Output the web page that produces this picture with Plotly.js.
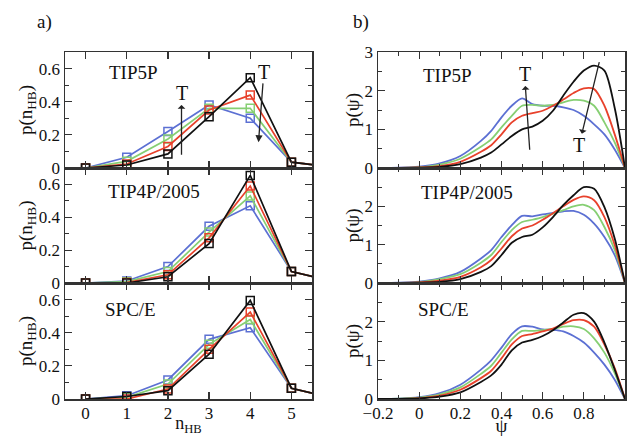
<!DOCTYPE html>
<html><head><meta charset="utf-8">
<script src="https://cdn.plot.ly/plotly-3.0.1.min.js"></script>
<style>html,body{margin:0;padding:0;background:#fff}</style>
</head><body>
<div id="chart" style="width:629px;height:436px"></div>
<script>
// ---------- data ----------
const nHB = [0, 1, 2, 3, 4, 5, 6];
const tip5pHB_black = [0.0, 0.018, 0.085, 0.31, 0.545, 0.035, 0.005];
const tip5pHB_red   = [0.0, 0.024, 0.13, 0.35, 0.44, 0.035, 0.005];
const tip5pHB_green = [0.0, 0.04, 0.175, 0.36, 0.36, 0.035, 0.005];
const tip5pHB_blue  = [0.0, 0.065, 0.22, 0.38, 0.30, 0.035, 0.005];

const tip4pHB_black = [0.0, 0.0, 0.038, 0.24, 0.655, 0.07, 0.01];
const tip4pHB_red   = [0.0, 0.003, 0.05, 0.275, 0.59, 0.07, 0.01];
const tip4pHB_green = [0.0, 0.008, 0.07, 0.31, 0.53, 0.07, 0.01];
const tip4pHB_blue  = [0.0, 0.012, 0.10, 0.345, 0.47, 0.07, 0.01];

const spceHB_black = [0.0, 0.015, 0.05, 0.27, 0.595, 0.065, 0.005];
const spceHB_red   = [0.0, 0.0, 0.06, 0.30, 0.525, 0.065, 0.005];
const spceHB_green = [0.0, 0.01, 0.09, 0.33, 0.48, 0.065, 0.005];
const spceHB_blue  = [0.0, 0.02, 0.115, 0.36, 0.43, 0.065, 0.005];

const psi = [-0.2, -0.1, 0, 0.1, 0.2, 0.3, 0.35, 0.4, 0.45, 0.5, 0.55, 0.6, 0.65, 0.7, 0.75, 0.8, 0.85, 0.9, 0.95, 1.0];
const tip5pPsi_black = [0, 0.002, 0.01, 0.03, 0.10, 0.27, 0.40, 0.61, 0.83, 1.00, 1.07, 1.22, 1.48, 1.87, 2.23, 2.52, 2.65, 2.52, 1.55, 0];
const tip5pPsi_red   = [0, 0.003, 0.015, 0.05, 0.16, 0.42, 0.59, 0.87, 1.18, 1.35, 1.42, 1.48, 1.61, 1.77, 1.94, 2.06, 2.04, 1.61, 0.87, 0];
const tip5pPsi_green = [0, 0.004, 0.02, 0.09, 0.24, 0.55, 0.74, 1.05, 1.35, 1.61, 1.63, 1.61, 1.63, 1.70, 1.76, 1.74, 1.61, 1.18, 0.66, 0];
const tip5pPsi_blue  = [0, 0.006, 0.035, 0.12, 0.31, 0.70, 0.96, 1.31, 1.61, 1.80, 1.65, 1.61, 1.61, 1.57, 1.50, 1.35, 1.13, 0.87, 0.48, 0];

const tip4pPsi_black = [0, 0.002, 0.01, 0.03, 0.10, 0.29, 0.44, 0.73, 1.05, 1.20, 1.26, 1.45, 1.72, 2.03, 2.29, 2.50, 2.46, 1.98, 1.16, 0];
const tip4pPsi_red   = [0, 0.003, 0.015, 0.06, 0.16, 0.41, 0.60, 0.90, 1.22, 1.42, 1.50, 1.65, 1.82, 2.00, 2.17, 2.26, 2.16, 1.72, 0.99, 0];
const tip4pPsi_green = [0, 0.004, 0.025, 0.10, 0.23, 0.53, 0.73, 1.07, 1.38, 1.59, 1.65, 1.72, 1.81, 1.90, 2.00, 2.04, 1.90, 1.46, 0.86, 0];
const tip4pPsi_blue  = [0, 0.006, 0.035, 0.12, 0.29, 0.64, 0.86, 1.20, 1.51, 1.75, 1.74, 1.79, 1.83, 1.87, 1.88, 1.78, 1.55, 1.20, 0.73, 0];

const spcePsi_black = [0, 0.004, 0.015, 0.06, 0.17, 0.44, 0.61, 0.89, 1.26, 1.46, 1.53, 1.63, 1.78, 1.98, 2.18, 2.22, 2.00, 1.46, 0.76, 0];
const spcePsi_red   = [0, 0.005, 0.025, 0.09, 0.24, 0.54, 0.73, 1.05, 1.41, 1.63, 1.68, 1.75, 1.82, 1.94, 2.04, 2.04, 1.87, 1.41, 0.80, 0];
const spcePsi_green = [0, 0.006, 0.035, 0.12, 0.30, 0.65, 0.86, 1.20, 1.54, 1.76, 1.76, 1.78, 1.81, 1.87, 1.88, 1.81, 1.57, 1.20, 0.67, 0];
const spcePsi_blue  = [0, 0.008, 0.045, 0.15, 0.37, 0.76, 1.00, 1.33, 1.68, 1.88, 1.87, 1.80, 1.79, 1.75, 1.63, 1.46, 1.20, 0.89, 0.50, 0];

const models = ['TIP5P', 'TIP4P/2005', 'SPC/E'];
const yTickLeft = [0, 0.2, 0.4, 0.6];
const xTickLeft = [0, 1, 2, 3, 4, 5];

// ---------- style ----------
const colors = {black: '#111111', red: '#e8412b', green: '#86cf73', blue: '#5c70d3'};
const serif = 'Liberation Serif, Times New Roman, serif';

const hbSets = [
  {black: tip5pHB_black, red: tip5pHB_red, green: tip5pHB_green, blue: tip5pHB_blue},
  {black: tip4pHB_black, red: tip4pHB_red, green: tip4pHB_green, blue: tip4pHB_blue},
  {black: spceHB_black, red: spceHB_red, green: spceHB_green, blue: spceHB_blue}
];
const psiSets = [
  {black: tip5pPsi_black, red: tip5pPsi_red, green: tip5pPsi_green, blue: tip5pPsi_blue},
  {black: tip4pPsi_black, red: tip4pPsi_red, green: tip4pPsi_green, blue: tip4pPsi_blue},
  {black: spcePsi_black, red: spcePsi_red, green: spcePsi_green, blue: spcePsi_blue}
];

const traces = [];
hbSets.forEach((set, i) => {
  const ax = i === 0 ? '' : String(i + 1);
  ['blue', 'green', 'red', 'black'].forEach(c => {
    traces.push({x: nHB, y: set[c], type: 'scatter', mode: 'lines+markers',
      xaxis: 'x' + ax, yaxis: 'y' + ax, showlegend: false, hoverinfo: 'skip',
      line: {color: colors[c], width: 1.7},
      marker: {symbol: 'square-open', size: 8, color: colors[c], line: {width: 1.5, color: colors[c]}}});
  });
});
psiSets.forEach((set, i) => {
  const ax = String(i + 4);
  ['blue', 'green', 'red', 'black'].forEach(c => {
    traces.push({x: psi, y: set[c], type: 'scatter', mode: 'lines',
      xaxis: 'x' + ax, yaxis: 'y' + ax, showlegend: false, hoverinfo: 'skip',
      line: {color: colors[c], width: 1.8, shape: 'spline', smoothing: 0.8}});
  });
});

const W = 629, H = 436, MB = 37;       // bottom margin holds the x titles
const PH = H - MB;                      // plotting-area height
const px = v => v / W;
const py = v => 1 - v / PH;            // fraction inside the plotting area (paper coords)
const leftDom = [px(65), px(312)];
const rightDom = [px(378), px(625)];
const rowDom = [[py(168), py(52)], [py(283), py(168)], [0, py(283)]];

const base = {
  showline: true, mirror: 'ticks', linecolor: '#333', linewidth: 1.5,
  ticks: 'inside', ticklen: 7, tickwidth: 1.2, tickcolor: '#333',
  showgrid: false, zeroline: false, fixedrange: true,
  tickfont: {family: serif, size: 17, color: '#111'}
};
const minorY = d => ({ticks: 'inside', ticklen: 4, dtick: d, tickcolor: '#333', tickwidth: 1, showgrid: false});

const layout = {
  width: W, height: H, margin: {l: 0, r: 0, t: 0, b: MB},
  paper_bgcolor: '#fff', plot_bgcolor: '#fff',
  font: {family: serif, color: '#111'},
  annotations: [], showlegend: false
};

for (let i = 0; i < 3; i++) {
  const a = i === 0 ? '' : String(i + 1);
  const b = String(i + 4);
  const xl = Object.assign({}, base, {
    domain: leftDom, anchor: 'y' + a, range: [-0.5, 5.5], tickvals: xTickLeft,
    showticklabels: i === 2, ticklabelstandoff: -2
  });
  if (i === 2) xl.title = {text: 'n<sub>HB</sub>', font: {family: serif, size: 18}, standoff: 2};
  layout['xaxis' + a] = xl;
  layout['yaxis' + a] = Object.assign({}, base, {
    domain: rowDom[i], anchor: 'x' + a, range: [0, 0.7], tickvals: yTickLeft,
    minor: minorY(0.1),
    title: {text: 'p(n<sub>HB</sub>)', font: {family: serif, size: 19}, standoff: 0}
  });
  const xr = Object.assign({}, base, {
    domain: rightDom, anchor: 'y' + b, range: [-0.2, 1], dtick: 0.2, tick0: 0,
    minor: minorY(0.1), showticklabels: i === 2, ticklabelstandoff: -2
  });
  if (i === 2) xr.title = {text: 'ψ', font: {family: serif, size: 19}, standoff: 2};
  layout['xaxis' + b] = xr;
  layout['yaxis' + b] = Object.assign({}, base, {
    domain: rowDom[i], anchor: 'x' + b, range: [0, 3],
    tickvals: i === 0 ? [0, 1, 2, 3] : [0, 1, 2],
    minor: minorY(0.5),
    title: {text: 'p(ψ)', font: {family: serif, size: 19}, standoff: 0}
  });
}

const txt = (x, y, t, size) => ({xref: 'paper', yref: 'paper', x: px(x), y: py(y), text: t,
  showarrow: false, xanchor: 'center', yanchor: 'middle', font: {family: serif, size: size || 19, color: '#111'}});
layout.annotations.push(txt(44, 22, 'a)'));
layout.annotations.push(txt(361, 22, 'b)'));
const lblL = [[133, 73], [154, 191], [130, 309]];
const lblR = [[448, 75], [467, 192], [443, 309]];
models.forEach((m, i) => {
  layout.annotations.push(txt(lblL[i][0], lblL[i][1], m));
  layout.annotations.push(txt(lblR[i][0], lblR[i][1], m));
});
// "T" label with an arrow: label at (tx,ty), other end of the arrow at (ex,ey)
const tArrow = (xa, ya, tx, ty, ex, ey, side) => ({xref: xa, yref: ya, axref: xa, ayref: ya,
  x: ex, y: ey, ax: tx, ay: ty, text: 'T', showarrow: true, arrowhead: 2, arrowsize: 1.1,
  arrowwidth: 1.3, arrowcolor: '#222', arrowside: side, standoff: 0, startstandoff: 0,
  borderpad: 0, font: {family: serif, size: 20, color: '#111'}});
layout.annotations.push(tArrow('x', 'y', 2.33, 0.45, 2.33, 0.08, 'start'));
layout.annotations.push(tArrow('x', 'y', 4.33, 0.58, 4.2, 0.155, 'end'));
layout.annotations.push(tArrow('x4', 'y4', 0.512, 2.42, 0.537, 0.47, 'start'));
layout.annotations.push(tArrow('x4', 'y4', 0.777, 0.59, 0.875, 2.74, 'start'));

Plotly.newPlot('chart', traces, layout, {staticPlot: true, displayModeBar: false});
</script>
</body></html>
